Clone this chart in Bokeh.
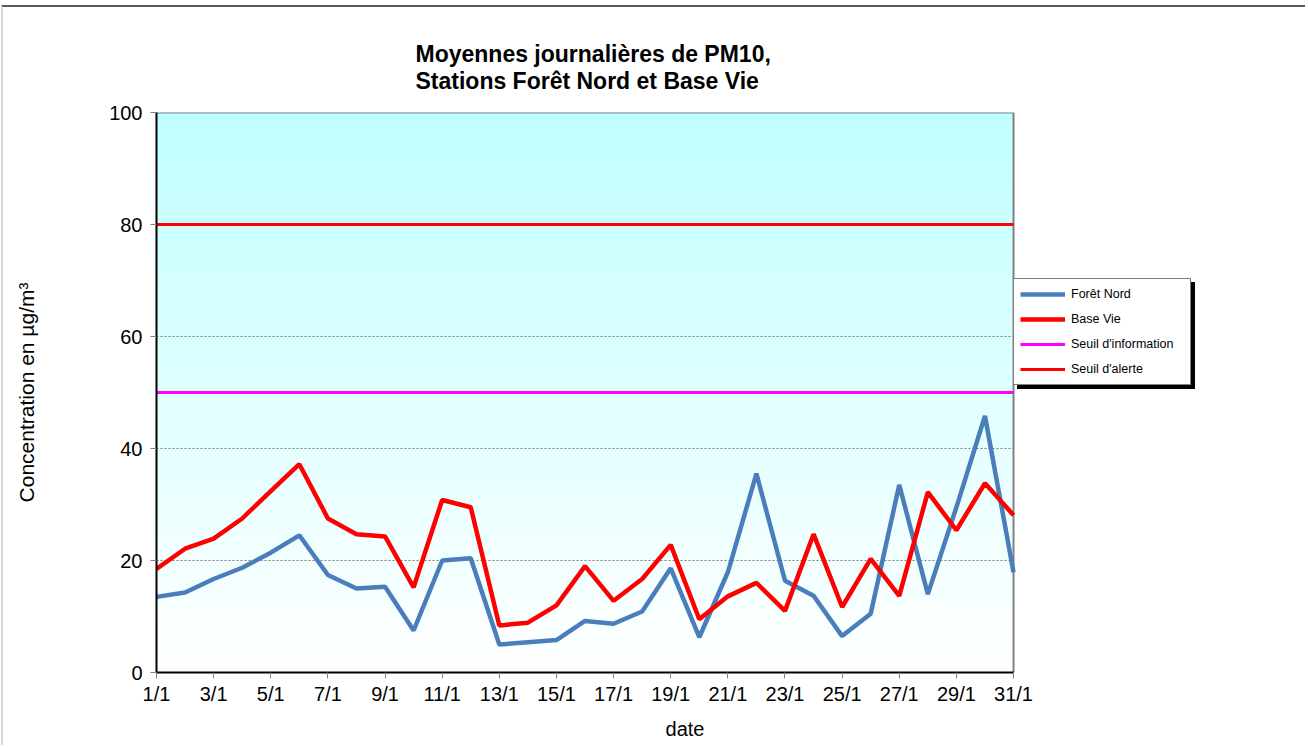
import numpy as np
from bokeh.plotting import figure
from bokeh.models import FixedTicker, Legend, LegendItem
from bokeh.embed import file_html
from bokeh.resources import INLINE

days = list(range(1, 32))
tick_days = list(range(1, 32, 2))
tick_labels = [f"{d}/1" for d in tick_days]
y_ticks = [0, 20, 40, 60, 80, 100]

foret_nord = [13.5, 14.3, 16.7, 18.7, 21.4, 24.5, 17.4, 15.0, 15.3, 7.5,
              20.0, 20.4, 5.0, 5.4, 5.8, 9.2, 8.7, 10.9, 18.6, 6.3,
              17.9, 35.5, 16.4, 13.7, 6.5, 10.5, 33.5, 14.0, 29.5, 45.8, 17.9]
base_vie = [18.5, 22.1, 23.9, 27.5, 32.4, 37.2, 27.5, 24.7, 24.3, 15.2,
            30.8, 29.5, 8.4, 8.9, 12.0, 19.0, 12.8, 16.7, 22.8, 9.5,
            13.6, 16.0, 11.0, 24.7, 11.7, 20.3, 13.7, 32.2, 25.4, 33.8, 28.1]
seuil_info = [50, 50]
seuil_alerte = [80, 80]
series_names = ["Forêt Nord", "Base Vie", "Seuil d'information", "Seuil d'alerte"]
title_lines = ["Moyennes journalières de PM10,", "Stations Forêt Nord et Base Vie"]

FONT = "Liberation Sans"

# frame extended to the right so the legend (which sits outside the plot area) is inside the canvas frame
X_END = days[-1] + 7.0
p = figure(width=1304, height=740, output_backend="svg", toolbar_location=None,
           x_range=(days[0], X_END), y_range=(y_ticks[0], y_ticks[-1]),
           min_border_left=153, min_border_right=94, min_border_top=105,
           min_border_bottom=75)
p.title.text = "\n".join(title_lines)
p.title.align = "left"
p.title.offset = 259
p.title.text_font = FONT
p.title.text_font_size = "23px"
p.title.text_font_style = "bold"
p.title.text_color = "black"
p.title.text_line_height = 1.07
p.title.standoff = 36

# gradient background of the plot area
n = 200
img = np.zeros((n, 1), dtype=np.uint32)
view = img.view(dtype=np.uint8).reshape((n, 1, 4))
for i in range(n):
    t = i / (n - 1)  # 0 bottom, 1 top
    c = int(round(255 - 63 * t))
    view[i, 0, 0] = c
    view[i, 0, 1] = 255
    view[i, 0, 2] = 255
    view[i, 0, 3] = 255
p.image_rgba(image=[img], x=days[0], y=y_ticks[0], dw=days[-1] - days[0],
             dh=y_ticks[-1] - y_ticks[0], level="underlay")

p.background_fill_color = "white"
p.border_fill_color = "white"
p.outline_line_color = None
p.xgrid.grid_line_color = None
p.ygrid.grid_line_color = None

# grid lines (dotted) limited to the plot area
grid_vals = y_ticks[1:-1]
p.segment(x0=[days[0]] * len(grid_vals), x1=[days[-1]] * len(grid_vals),
          y0=grid_vals, y1=grid_vals, line_color="#7f7f7f", line_dash="2 2",
          line_width=1, level="underlay")
# plot-area border (top and right)
p.segment(x0=[days[0], days[-1]], x1=[days[-1], days[-1]],
          y0=[y_ticks[-1], y_ticks[0]], y1=[y_ticks[-1], y_ticks[-1]],
          line_color="#808080", line_width=2)

p.yaxis.ticker = FixedTicker(ticks=y_ticks)
p.xaxis.ticker = FixedTicker(ticks=tick_days)
p.xaxis.bounds = (days[0], days[-1])
p.xaxis.major_label_overrides = {d: l for d, l in zip(tick_days, tick_labels)}
for ax in (p.xaxis, p.yaxis):
    ax.axis_line_color = "black"
    ax.axis_line_width = 2
    ax.major_tick_line_color = "#808080"
    ax.major_tick_out = 6
    ax.major_tick_in = 0
    ax.minor_tick_line_color = None
    ax.major_label_text_font = FONT
    ax.major_label_text_font_size = "20px"
    ax.major_label_text_color = "black"
    ax.axis_label_text_font = FONT
    ax.axis_label_text_font_size = "20px"
    ax.axis_label_text_font_style = "normal"
    ax.axis_label_text_color = "black"
p.xaxis.axis_label = "date"
p.yaxis.axis_label = "Concentration en µg/m³"
p.yaxis.axis_label_text_font_size = "21px"
p.xaxis.major_label_standoff = 4
p.yaxis.major_label_standoff = 8
p.xaxis.axis_label_standoff = 10
p.yaxis.axis_label_standoff = 68

r1 = p.line(days, foret_nord, line_color="#4A7EBB", line_width=4.5)
r2 = p.line(days, base_vie, line_color="#FF0000", line_width=4.5)
r3 = p.line([days[0], days[-1]], seuil_info, line_color="#FF00FF", line_width=3)
r4 = p.line([days[0], days[-1]], seuil_alerte, line_color="#FF0000", line_width=3)
dummy = p.line([days[0]], [y_ticks[0]], line_alpha=0)


def make_legend(labels, renderers, loc, bg):
    lg = Legend(items=[LegendItem(label=nm, renderers=[r]) for nm, r in zip(labels, renderers)],
                location=loc)
    lg.label_text_font = FONT
    lg.label_text_font_size = "12.5px"
    lg.label_text_color = "black"
    lg.glyph_width = 45
    lg.glyph_height = 18
    lg.label_height = 18
    lg.label_width = 113
    lg.label_standoff = 6
    lg.spacing = 7
    lg.padding = 6
    lg.margin = 0
    lg.border_line_color = "black"
    lg.border_line_width = 1
    lg.background_fill_color = bg
    lg.background_fill_alpha = 1
    return lg


# drop shadow behind the legend
shadow = make_legend([" "] * 4, [dummy] * 4, (861, 283), "black")
p.add_layout(shadow, "center")
legend = make_legend(series_names, [r1, r2, r3, r4], (857, 287), "white")
p.add_layout(legend, "center")

p.styles = {"border-top": "2px solid #595959", "border-left": "2px solid #d9d9d9",
            "margin-top": "5px", "margin-left": "1px"}

open("out.html", "w").write(file_html(p, INLINE))
